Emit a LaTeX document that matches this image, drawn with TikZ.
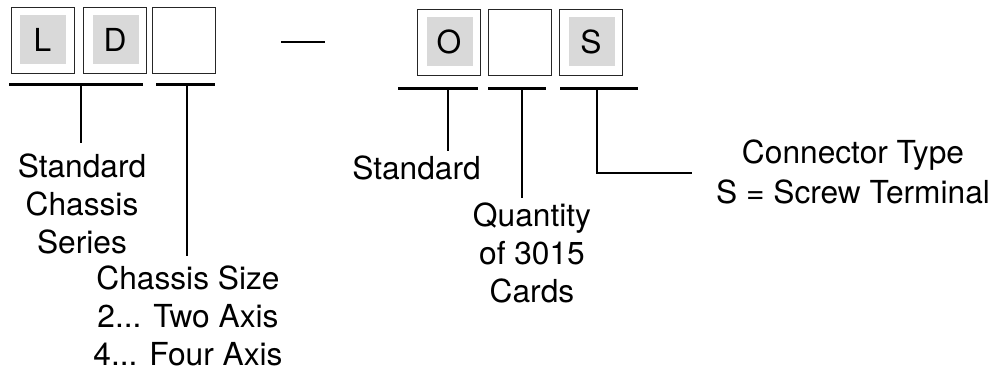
\documentclass[tikz,border=0pt]{standalone}
\usepackage{fontspec}
\setmainfont{TeX Gyre Heros}
\usetikzlibrary{calc}
\begin{document}
\begin{tikzpicture}[x=1pt,y=1pt,
  lbl/.style={inner sep=0pt, anchor=north, align=center, font=\fontsize{31.7}{38}\selectfont},
  codebox/.style={draw=black!85, line width=0.9pt, minimum width=63pt, minimum height=66pt, inner sep=0pt, font=\fontsize{31.7}{38}\selectfont},
  shaded/.style={codebox, path picture={\fill[gray!30] ([shift={(9pt,9pt)}]path picture bounding box.south west) rectangle ([shift={(-8pt,-8pt)}]path picture bounding box.north east);}},
  uline/.style={line width=3pt},
  lead/.style={line width=2.3pt}]
\useasboundingbox (0,0) rectangle (999,371);
% code boxes
\node[shaded] (bL) at (42.5,331) {L};
\node[shaded] (bD) at (115,331) {D};
\node[codebox] (bE1) at (184,330.5) {};
\node[shaded] (bO) at (449,329) {O};
\node[codebox] (bE2) at (519.5,329) {};
\node[shaded] (bS) at (591,329) {S};
% dash
\coordinate (d1) at (281,329);
\coordinate (d2) at (325,329);
\draw[line width=2.2pt] (d1) -- (d2);
% underlines
\coordinate (u1a) at (9,286);   \coordinate (u1b) at (143,286); \coordinate (u1m) at (81,286);
\coordinate (u2a) at (156,286); \coordinate (u2b) at (215,286); \coordinate (u2m) at (187,286);
\coordinate (u3a) at (398,282); \coordinate (u3b) at (478,282); \coordinate (u3m) at (448,282);
\coordinate (u4a) at (488,282); \coordinate (u4b) at (546,282); \coordinate (u4m) at (522,282);
\coordinate (u5a) at (560,282); \coordinate (u5b) at (638,282); \coordinate (u5m) at (597,282);
\draw[uline] (u1a) -- (u1b);
\draw[uline] (u2a) -- (u2b);
\draw[uline] (u3a) -- (u3b);
\draw[uline] (u4a) -- (u4b);
\draw[uline] (u5a) -- (u5b);
% labels
\node[lbl] (t1) at (82,217) {Standard\\Chassis\\Series};
\node[lbl] (t2) at (188,105) {Chassis Size\\2... Two Axis\\4... Four Axis};
\node[lbl] (t3) at (416.5,215) {Standard};
\node[lbl] (t4) at (532,168) {Quantity\\of 3015\\Cards};
\node[lbl, font=\fontsize{31.7}{40}\selectfont] (t5) at (853,231) {Connector Type\\S = Screw Terminal};
% leaders
\coordinate (e1) at ($(u1m |- t1.north)+(0,11)$);
\coordinate (e2) at ($(u2m |- t2.north)+(0,10)$);
\coordinate (e3) at ($(u3m |- t3.north)+(0,5)$);
\coordinate (e4) at ($(u4m |- t4.north)+(0,5)$);
\coordinate (e5) at (597,198);
\coordinate (e5b) at (692,198);
\draw[lead] (u1m) -- (e1);
\draw[lead] (u2m) -- (e2);
\draw[lead] (u3m) -- (e3);
\draw[lead] (u4m) -- (e4);
\draw[lead] (u5m) -- (e5) -- (e5b);
\end{tikzpicture}
\end{document}
